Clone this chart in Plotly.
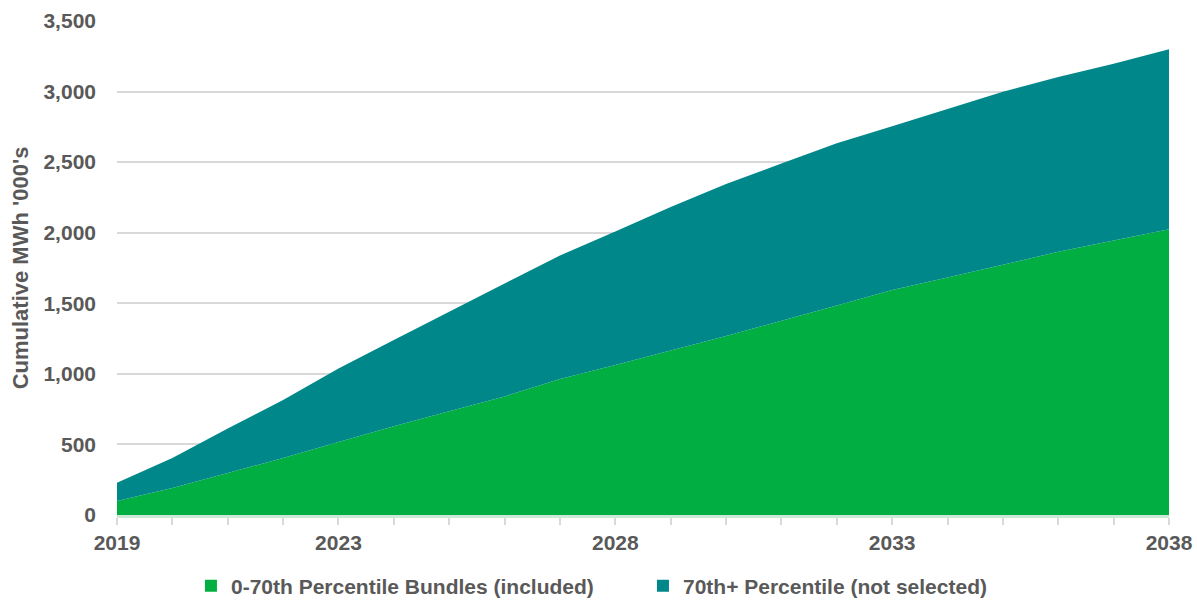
import plotly.graph_objects as go

years = list(range(2019, 2039))
included = [99, 191, 297, 404, 517, 628, 735, 840, 963, 1062, 1165, 1268, 1376, 1485, 1594, 1683, 1773, 1865, 1945, 2025]
total = [229, 404, 612, 815, 1038, 1240, 1440, 1641, 1838, 2009, 2183, 2345, 2490, 2633, 2755, 2877, 2998, 3103, 3198, 3300]
not_selected = [t - g for t, g in zip(total, included)]
series_names = ["0-70th Percentile Bundles (included)", "70th+ Percentile (not selected)"]
x_tick_vals = [2019, 2023, 2028, 2033, 2038]
y_tick_vals = [0, 500, 1000, 1500, 2000, 2500, 3000, 3500]

GREEN = "#00AE41"
TEAL = "#008789"
TXT = "#595959"
FONT = "Liberation Sans, Arial, sans-serif"

fig = go.Figure()
fig.add_trace(go.Scatter(x=years, y=included, name=series_names[0], showlegend=False,
                         stackgroup="one", mode="none", fillcolor=GREEN, line=dict(width=0)))
fig.add_trace(go.Scatter(x=years, y=not_selected, name=series_names[1], showlegend=False,
                         stackgroup="one", mode="none", fillcolor=TEAL, line=dict(width=0)))
# legend entries with square swatches
for nm, col in zip(series_names, [GREEN, TEAL]):
    fig.add_trace(go.Bar(x=[None], y=[None], name=nm, marker=dict(color=col, line=dict(width=0)),
                         showlegend=True, hoverinfo="skip"))

fig.update_layout(
    width=1197, height=600,
    margin=dict(l=117, r=28, t=21, b=85, autoexpand=False),
    paper_bgcolor="white", plot_bgcolor="white",
    font=dict(family=FONT, size=20, color=TXT),
    showlegend=True,
    legend=dict(orientation="h", x=0.0703, xanchor="left", y=-0.1437, yanchor="middle",
                font=dict(family=FONT, size=21, color=TXT, weight="bold"),
                itemwidth=30, entrywidth=407, entrywidthmode="pixels",
                traceorder="normal", bgcolor="rgba(0,0,0,0)"),
    xaxis=dict(range=[2019, 2038], tickvals=x_tick_vals, ticktext=[str(v) for v in x_tick_vals],
               showgrid=False, zeroline=False, showline=True, linecolor="#CDE8D6", linewidth=3,
               ticks="outside", ticklen=7, tickcolor="#D9D9D9", tickwidth=1.5,
               minor=dict(ticks="outside", tick0=2019, dtick=1, ticklen=7, tickcolor="#D9D9D9", tickwidth=1.5),
               automargin=False,
               tickfont=dict(family=FONT, size=21, color=TXT, weight="bold")),
    yaxis=dict(range=[0, 3500], tickvals=y_tick_vals, tickformat=",", showgrid=True,
               gridcolor="#D9D9D9", gridwidth=1.5, zeroline=False, showline=False,
               ticks="", ticklabelstandoff=20, automargin=False,
               tickfont=dict(family=FONT, size=21, color=TXT, weight="bold"),
               title=dict(text="Cumulative MWh '000's", standoff=8,
                          font=dict(family=FONT, size=22, color=TXT, weight="bold"))),
)

fig.write_html("out.html", config={"displayModeBar": False},
               post_script="document.body.style.margin='0px';document.body.style.overflow='hidden';")
